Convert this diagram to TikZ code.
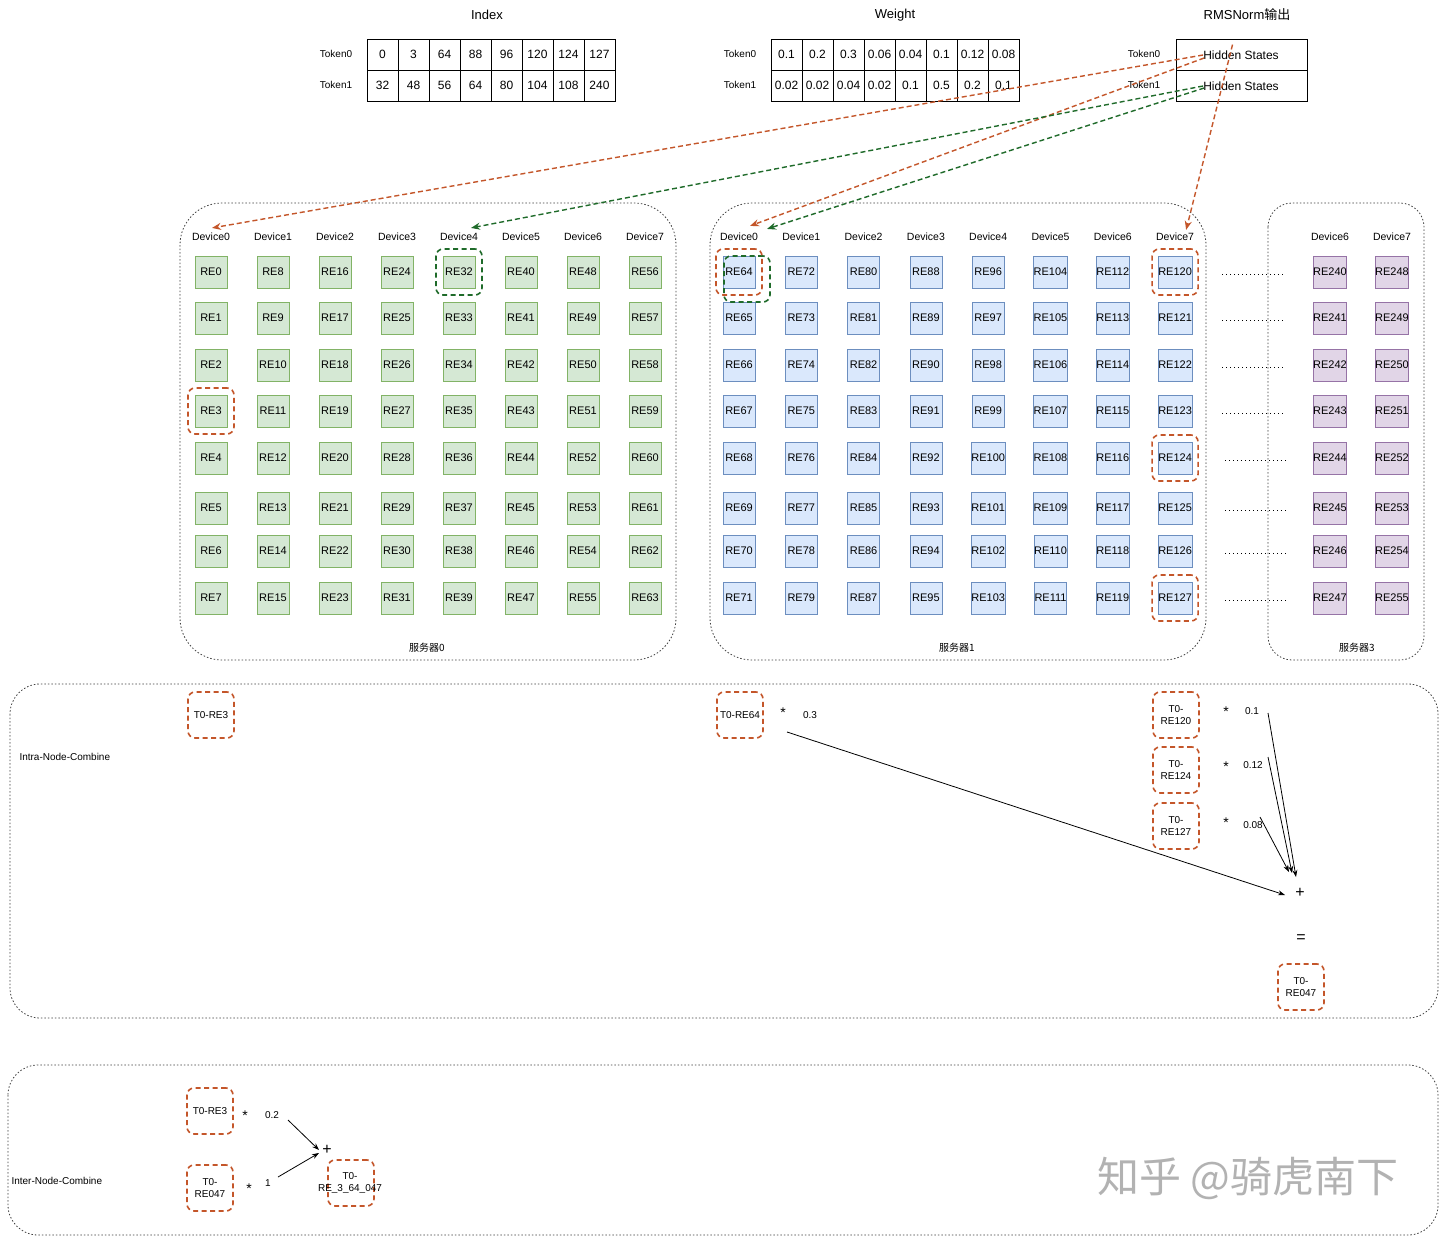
\documentclass[tikz,border=0pt]{standalone}
\usepackage{fontspec}
\setmainfont{Liberation Sans}
\newfontfamily\cjk{Noto Sans CJK SC}
\usetikzlibrary{arrows.meta,calc}
\definecolor{gfill}{HTML}{D5E8D4}\definecolor{gdraw}{HTML}{82B366}
\definecolor{bfill}{HTML}{DAE8FC}\definecolor{bdraw}{HTML}{6C8EBF}
\definecolor{pfill}{HTML}{E1D5E7}\definecolor{pdraw}{HTML}{9673A6}
\definecolor{org}{HTML}{C4562A}\definecolor{grn}{HTML}{1F6B2A}
\begin{document}
\begin{tikzpicture}[x=1pt,y=-1pt,every node/.style={font=\fontsize{10.5}{12}\selectfont}]
\tikzset{
 gbox/.style={draw=gdraw,fill=gfill,minimum width=32pt,minimum height=32pt,inner sep=0pt,font=\fontsize{11}{12}\selectfont,line width=0.8pt},
 bbox/.style={gbox,draw=bdraw,fill=bfill},
 pbox/.style={gbox,draw=pdraw,fill=pfill},
 cell/.style={draw,line width=0.8pt,minimum width=31pt,minimum height=31pt,inner sep=0pt,font=\fontsize{12}{14}\selectfont},
 hlo/.style={draw=org,line width=1.6pt,dash pattern=on 5pt off 3.5pt,rounded corners=7pt,minimum width=46pt,minimum height=46pt,inner sep=0pt,align=center,font=\fontsize{10}{12}\selectfont},
 hlg/.style={hlo,draw=grn},
 cont/.style={draw=black!75,line width=0.8pt,dash pattern=on 1.5pt off 2pt},
 oarr/.style={draw=org,line width=1.4pt,dash pattern=on 5pt off 3pt,-{Stealth[length=9pt,width=7pt]}},
 garr/.style={oarr,draw=grn},
 carr/.style={draw=black,line width=0.8pt,-{Stealth[length=7pt,width=5pt]}},
 lbl/.style={font=\fontsize{10}{12}\selectfont},
 ttl/.style={font=\fontsize{13}{15}\selectfont},
 devl/.style={font=\fontsize{10.5}{12}\selectfont,inner sep=1pt},
 star/.style={font=\fontsize{14}{14}\selectfont},
 opn/.style={font=\fontsize{16}{16}\selectfont,inner sep=1pt},
 dotl/.style={line width=1pt,dash pattern=on 1pt off 3pt},
}
\useasboundingbox (0,0) rectangle (1440,1236);
\fill[white] (0,0) rectangle (1440,1236);

% ---------- top tables ----------
\node[ttl] (tidx) at (487,15) {Index};
\node[ttl] (twt) at (895,15) {Weight};
\node[ttl] (trms) at (1247,15) {RMSNorm{\cjk 输出}};

\node[lbl] (it0) at (336,54) {Token0};
\node[lbl] (it1) at (336,85) {Token1};
\foreach \v [count=\c from 0] in {0,3,64,88,96,120,124,127}
  \node[cell] (idx0\c) at (382.5+31*\c,54.5) {\v};
\foreach \v [count=\c from 0] in {32,48,56,64,80,104,108,240}
  \node[cell] (idx1\c) at (382.5+31*\c,85.5) {\v};

\node[lbl] (wt0l) at (740,54) {Token0};
\node[lbl] (wt1l) at (740,85) {Token1};
\foreach \v [count=\c from 0] in {0.1,0.2,0.3,0.06,0.04,0.1,0.12,0.08}
  \node[cell] (wt0\c) at (786.5+31*\c,54.5) {\v};
\foreach \v [count=\c from 0] in {0.02,0.02,0.04,0.02,0.1,0.5,0.2,0.1}
  \node[cell] (wt1\c) at (786.5+31*\c,85.5) {\v};

\node[lbl] (ht0l) at (1144,54) {Token0};
\node[lbl] (ht1l) at (1144,85) {Token1};
\node[draw,line width=0.8pt,minimum width=131pt,minimum height=31pt,inner sep=0pt] (hs0) at (1241.5,54.5) {};
\node[draw,line width=0.8pt,minimum width=131pt,minimum height=31pt,inner sep=0pt] (hs1) at (1241.5,85.5) {};
\node[font=\fontsize{12}{14}\selectfont,inner sep=0pt] (ht0) at (1241,55) {Hidden States};
\node[font=\fontsize{12}{14}\selectfont,inner sep=0pt] (ht1) at (1241,86) {Hidden States};

% ---------- servers ----------
\draw[cont,rounded corners=42pt] (180,203) rectangle (676,660);
\draw[cont,rounded corners=42pt] (710,203) rectangle (1206,660);
\draw[cont,rounded corners=24pt] (1268,203) rectangle (1424,660);
\node[font=\cjk\fontsize{10}{12}\selectfont] (sv0) at (427,648) {服务器0};
\node[font=\cjk\fontsize{10}{12}\selectfont] (sv1) at (957,648) {服务器1};
\node[font=\cjk\fontsize{10}{12}\selectfont] (sv3) at (1357,648) {服务器3};

\foreach \c in {0,...,7} {
  \node[devl] (s0d\c) at (211+62*\c,237) {Device\c};
  \node[devl] (s1d\c) at (739+62.3*\c,237) {Device\c};
}
\node[devl] (s3d6) at (1330,237) {Device6};
\node[devl] (s3d7) at (1392,237) {Device7};

\foreach \y [count=\r from 0] in {272,318,365,411,458,508,551,598} {
  \foreach \c in {0,...,7} {
    \pgfmathtruncatemacro\na{8*\c+\r}
    \pgfmathtruncatemacro\nb{64+8*\c+\r}
    \node[gbox] (re\na) at (211+62*\c,\y) {RE\na};
    \node[bbox] (re\nb) at (739+62.3*\c,\y) {RE\nb};
  }
  \pgfmathtruncatemacro\nc{240+\r}
  \pgfmathtruncatemacro\nd{248+\r}
  \node[pbox] (re\nc) at (1330,\y) {RE\nc};
  \node[pbox] (re\nd) at (1392,\y) {RE\nd};
}
\foreach \y in {274,320,367,413} \draw[dotl] (1222,\y) -- (1283,\y);
\foreach \y in {460,510,553,600} \draw[dotl] (1225,\y) -- (1286,\y);

% highlights
\node[hlo] (h3) at (re3) {};
\node[hlg] (h32) at (re32) {};
\node[hlg] (h64g) at ($(re64)+(8,7)$) {};
\node[hlo] (h64) at (re64) {};
\node[hlo] (h120) at (re120) {};
\node[hlo] (h124) at (re124) {};
\node[hlo] (h127) at (re127) {};

% dispatch arrows
\draw[oarr] (ht0.west) -- ($(s0d0.north)+(1,-4)$);
\draw[oarr] ($(ht0.west)+(1,3)$) -- ($(s1d0.north)+(11,-6)$);
\draw[oarr] ($(hs0.north)+(-9,6)$) -- ($(s1d7.north)+(11,-2)$);
\draw[garr] (ht1.west) -- ($(s0d4.north)+(12,-4)$);
\draw[garr] ($(ht1.west)+(1,2)$) -- ($(s1d0.north)+(28,-3)$);

% ---------- intra-node combine ----------
\draw[cont,rounded corners=30pt] (10,684) rectangle (1438,1018);
\node[lbl,anchor=west] (intra) at (16,757) {Intra-Node-Combine};
\node[hlo] (c3) at (211,715) {T0-RE3};
\node[hlo] (c64) at (740,715) {T0-RE64};
\node[star] (m64) at (783,713) {*};
\node[lbl] (w64) at (810,715) {0.3};
\node[hlo] (c120) at (1176,715) {T0-\\RE120};
\node[star] (m120) at (1226,712) {*};
\node[lbl] (w120) at (1252,711) {0.1};
\node[hlo] (c124) at (1176,770) {T0-\\RE124};
\node[star] (m124) at (1226,767) {*};
\node[lbl] (w124) at (1253,765) {0.12};
\node[hlo] (c127) at (1176,826) {T0-\\RE127};
\node[star] (m127) at (1226,823) {*};
\node[lbl] (w127) at (1253,825) {0.08};
\node[opn] (plus) at (1300,893) {+};
\node[opn] (eq) at (1301,939) {=};
\node[hlo] (c047) at (1301,987) {T0-\\RE047};

\coordinate (f64) at (787,732);
\coordinate (f120) at (1268,713);
\coordinate (f124) at (1268,757);
\coordinate (f127) at (1260,817);
\draw[carr] (f64) -- ($(plus)+(-15,2)$);
\draw[carr] (f120) -- ($(plus)+(-4,-16)$);
\draw[carr] (f124) -- ($(plus)+(-8,-20)$);
\draw[carr] (f127) -- ($(plus)+(-11,-21)$);

% ---------- inter-node combine ----------
\draw[cont,rounded corners=30pt] (8,1065) rectangle (1438,1235);
\node[lbl,anchor=west] (inter) at (8,1181) {Inter-Node-Combine};
\node[hlo] (d3) at (210,1111) {T0-RE3};
\node[star] (md3) at (245,1116) {*};
\node[lbl] (wd3) at (272,1115) {0.2};
\node[hlo] (d047) at (210,1188) {T0-\\RE047};
\node[star] (md047) at (249,1189) {*};
\node[lbl] (wd047) at (268,1183) {1};
\node[opn] (plus2) at (327,1150) {+};
\node[hlo] (dres) at (351,1183) {};
\node[lbl,align=center] (drest) at (350,1183) {T0-\\RE\_3\_64\_047};
\coordinate (g3) at (288,1120);
\coordinate (g047) at (278,1177);
\draw[carr] (g3) -- ($(plus2)+(-8,0)$);
\draw[carr] (g047) -- ($(plus2)+(-8,3)$);

% watermark
\node[text=black!30,font=\cjk\fontsize{42}{42}\selectfont] (wm) at (1248,1178) {知乎 @骑虎南下};
\end{tikzpicture}
\end{document}
